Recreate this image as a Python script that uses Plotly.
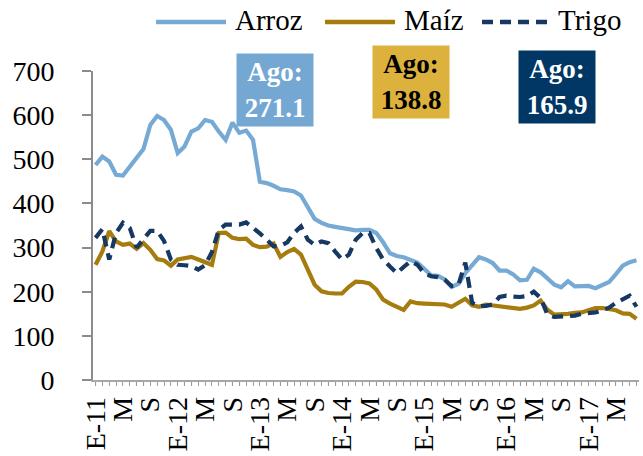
import pandas as pd
import plotly.graph_objects as go

# Monthly price indices, January 2011 - August 2017
months = pd.date_range("2011-01-01", periods=80, freq="MS").strftime("%Y-%m").tolist()

arroz = [487, 506, 495, 465, 463, 484, 506, 523, 578, 598,
         589, 567, 514, 529, 563, 570, 589, 585, 563, 544,
         583, 560, 565, 544, 449, 446, 440, 432, 430, 427,
         418, 390, 365, 356, 350, 347, 344, 343, 339, 340,
         340, 333, 312, 287, 281, 278, 272, 266, 252, 237,
         236, 228, 211, 218, 242, 261, 278, 273, 265, 248,
         248, 239, 226, 227, 252, 244, 229, 216, 210, 224,
         212, 212, 213, 208, 214, 222, 240, 259, 267, 271.1]

maiz = [261, 291, 337, 314, 306, 309, 297, 310, 295, 274,
        271, 259, 273, 276, 279, 273, 266, 261, 333, 334,
        322, 319, 320, 306, 301, 302, 309, 279, 290, 297,
        284, 250, 216, 201, 197, 196, 196, 211, 223, 222,
        219, 205, 182, 173, 166, 159, 178, 174, 173, 173,
        173, 171, 166, 176, 184, 169, 166, 171, 169, 166,
        163, 161, 161, 164, 169, 180, 159, 148, 148, 150,
        152, 153, 158, 163, 163, 160, 158, 151, 150, 138.8]

trigo = [322, 342, 273, 333, 356, 344, 300, 318, 338, 338,
         315, 273, 261, 260, 258, 250, 260, 290, 340, 352,
         353, 352, 357, 345, 332, 318, 303, 304, 312, 333,
         348, 318, 306, 314, 310, 291, 273, 284, 318, 333,
         333, 299, 273, 257, 242, 256, 269, 261, 242, 235,
         233, 227, 213, 216, 266, 175, 167, 168, 171, 188,
         191, 189, 188, 190, 200, 186, 148, 143, 144, 147,
         146, 150, 152, 153, 158, 164, 175, 184, 191, 165.9]

tick_labels = ["E-11", "M", "S", "E-12", "M", "S", "E-13", "M", "S",
               "E-14", "M", "S", "E-15", "M", "S", "E-16", "M", "S",
               "E-17", "M"]

series = [
    ("Arroz", arroz, "rgb(118,170,212)", "solid", "rgb(116,168,211)", "white"),
    ("Maíz", maiz, "rgb(166,124,15)", "solid", "rgb(220,177,60)", "black"),
    ("Trigo", trigo, "rgb(22,56,98)", "11px,7px", "rgb(0,55,100)", "white"),
]

SERIF = "Liberation Serif, Times New Roman, serif"
W, H = 643, 456
ML, MR, MT, MB = 93, 4, 71, 76

fig = go.Figure()
for name, vals, color, dash, _, _ in series:
    fig.add_trace(go.Scatter(
        x=months, y=vals, mode="lines", name=name,
        line=dict(color=color, width=4.2, dash=dash),
        showlegend=False, hoverinfo="skip",
    ))

# every month gets a tick; every fourth month carries a label
ticktext = [""] * len(months)
for k, lab in enumerate(tick_labels):
    ticktext[4 * k] = lab


def px_x(p):
    return (p - ML) / (W - ML - MR)


def px_y(p):
    return (H - MB - p) / (H - MT - MB)


shapes = []
annotations = []

# legend along the top
legend_pos = [(156, 226, 233), (325, 395, 402), (482, 550, 556)]
for (name, vals, color, dash, _, _), (x0, x1, xt) in zip(series, legend_pos):
    shapes.append(dict(type="line", xref="paper", yref="paper",
                       x0=px_x(x0), x1=px_x(x1), y0=px_y(22), y1=px_y(22),
                       line=dict(color=color, width=4.5, dash=dash)))
    annotations.append(dict(xref="paper", yref="paper", x=px_x(xt), y=px_y(20),
                            xanchor="left", yanchor="middle", showarrow=False,
                            text=name, font=dict(family=SERIF, size=29, color="black")))

# latest-value boxes
box_pos = [(274.5, 90), (410.5, 82.5), (556.5, 86.5)]
for (name, vals, color, dash, bg, fg), (cx, cy) in zip(series, box_pos):
    annotations.append(dict(xref="paper", yref="paper", x=px_x(cx), y=px_y(cy),
                            xanchor="center", yanchor="middle", showarrow=False,
                            text=f"<b>Ago:<br>{vals[-1]:.1f}</b>",
                            width=76, height=72, bgcolor=bg, borderpad=0,
                            font=dict(family=SERIF, size=27, color=fg)))

fig.update_layout(
    width=W, height=H,
    margin=dict(l=ML, r=MR, t=MT, b=MB, pad=0),
    paper_bgcolor="white", plot_bgcolor="white",
    font=dict(family=SERIF, size=28, color="black"),
    shapes=shapes, annotations=annotations,
    xaxis=dict(
        type="category", range=[-0.37, 79.37],
        tickmode="array", tickvals=months, ticktext=ticktext,
        tickangle=-90, ticks="outside", ticklen=4, tickwidth=1, tickcolor="#9a9a9a",
        showline=True, linecolor="#a6a6a6", linewidth=1.5,
        showgrid=False, zeroline=False,
        tickfont=dict(family=SERIF, size=28, color="black"),
    ),
    yaxis=dict(
        range=[0, 700], tickvals=[0, 100, 200, 300, 400, 500, 600, 700],
        ticks="outside", ticklen=9, tickwidth=1.5, tickcolor="#8c8c8c",
        showline=True, linecolor="#8c8c8c", linewidth=2,
        showgrid=False, zeroline=False, ticklabelstandoff=22,
        tickfont=dict(family=SERIF, size=28, color="black"),
    ),
)

fig.write_html("out.html")
